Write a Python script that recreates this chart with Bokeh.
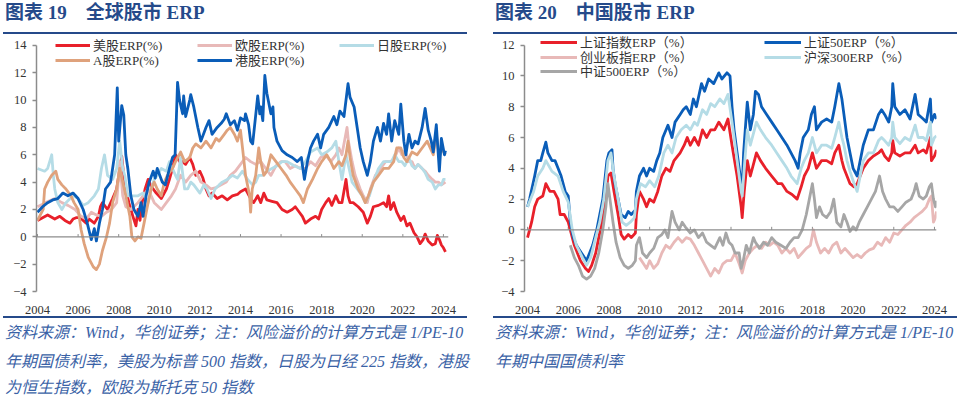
from bokeh.plotting import figure
from bokeh.models import Span, Legend, LegendItem, FixedTicker, Range1d, Div
from bokeh.layouts import row, column
from bokeh.embed import file_html
from bokeh.resources import INLINE

# ---------------- data: left chart (全球股市 ERP) ----------------
year_ticks = [2004, 2006, 2008, 2010, 2012, 2014, 2016, 2018, 2020, 2022, 2024]
left_y_ticks = [-4, -2, 0, 2, 4, 6, 8, 10, 12, 14]
right_y_ticks = [-4, -2, 0, 2, 4, 6, 8, 10, 12]

us_erp = [(2004.0,1.2),(2004.5,1.6),(2004.85,1.3),(2005.1,1.5),(2005.35,1.2),(2005.6,1.0),(2005.75,1.3),(2005.9,1.4),
          (2006.1,1.4),(2006.4,1.0),(2006.55,1.3),(2006.8,1.0),(2007.0,1.5),(2007.1,2.2),(2007.2,2.5),(2007.45,2.0),
          (2007.7,2.8),(2007.9,3.5),(2008.15,5.9),(2008.25,4.5),(2008.35,3.5),(2008.5,2.5),(2008.7,1.5),(2008.85,0.8),
          (2008.95,2.0),(2009.05,1.2),(2009.15,2.5),(2009.3,3.5),(2009.45,4.2),(2009.6,3.7),(2009.85,3.2),(2010.1,2.8),
          (2010.35,3.5),(2010.5,4.2),(2010.65,5.0),(2010.8,6.0),(2011.0,5.5),(2011.15,5.5),(2011.3,5.3),(2011.5,5.8),
          (2011.65,5.3),(2011.8,4.5),(2012.0,4.8),(2012.15,4.3),(2012.3,3.5),(2012.45,3.0),(2012.6,3.2),(2012.85,2.8),
          (2013.1,3.0),(2013.35,2.7),(2013.6,3.0),(2013.85,3.1),(2014.0,3.3),(2014.25,3.5),(2014.5,2.8),(2014.65,2.5),
          (2014.85,3.0),(2015.0,2.5),(2015.15,3.2),(2015.3,2.7),(2015.55,2.6),(2015.8,2.5),(2016.05,2.0),(2016.3,1.8),
          (2016.55,2.0),(2016.7,2.2),(2016.9,1.8),(2017.05,1.5),(2017.2,1.0),(2017.45,1.3),(2017.7,1.5),(2017.85,1.3),
          (2018.0,2.0),(2018.2,2.5),(2018.35,2.8),(2018.5,2.3),(2018.7,3.0),(2018.85,2.5),(2019.0,2.5),(2019.2,4.2),
          (2019.3,3.0),(2019.4,2.5),(2019.55,2.5),(2019.8,2.2),(2020.05,1.8),(2020.25,1.0),(2020.4,1.5),(2020.55,2.2),
          (2020.8,2.3),(2021.05,2.5),(2021.2,2.2),(2021.3,3.0),(2021.4,2.0),(2021.55,2.5),(2021.7,1.8),(2021.9,1.2),
          (2022.05,1.5),(2022.2,0.8),(2022.35,1.0),(2022.55,0.3),(2022.7,0.0),(2022.85,-0.5),(2023.0,-0.2),(2023.1,0.2),
          (2023.25,-0.3),(2023.45,-0.6),(2023.6,-0.5),(2023.7,0.1),(2023.8,-0.2),(2023.9,-0.6),(2024.0,-0.8),(2024.1,-1.1)]

eu_erp = [(2004.0,2.2),(2004.4,2.5),(2004.85,2.8),(2005.2,2.5),(2005.5,2.3),(2005.85,2.0),(2006.15,1.5),(2006.4,1.3),
          (2006.65,1.8),(2006.9,1.6),(2007.15,1.5),(2007.4,1.8),(2007.65,2.0),(2007.9,2.5),(2008.05,5.5),(2008.2,3.0),
          (2008.35,2.2),(2008.6,2.0),(2008.95,2.5),(2009.2,3.0),(2009.45,3.5),(2009.75,2.5),(2010.1,2.0),(2010.35,2.5),
          (2010.6,3.0),(2010.8,3.5),(2011.05,4.5),(2011.3,4.0),(2011.55,4.5),(2011.8,4.8),(2012.05,4.0),(2012.3,3.8),
          (2012.55,3.5),(2012.8,3.6),(2013.05,3.8),(2013.3,4.0),(2013.5,4.5),(2013.75,4.8),(2014.0,5.3),(2014.25,5.8),
          (2014.5,5.5),(2014.75,5.3),(2015.0,5.5),(2015.25,5.0),(2015.5,4.5),(2015.75,5.2),(2016.0,5.5),(2016.2,5.5),
          (2016.45,5.0),(2016.7,5.2),(2016.95,5.0),(2017.2,5.0),(2017.45,5.5),(2017.7,5.2),(2017.95,5.8),(2018.2,6.0),
          (2018.45,5.5),(2018.7,6.0),(2018.85,6.5),(2019.0,6.0),(2019.25,8.0),(2019.32,7.0),(2019.5,5.5),(2019.65,4.5),
          (2019.9,3.5),(2020.05,3.0),(2020.25,2.5),(2020.4,3.5),(2020.65,4.5),(2020.9,5.0),(2021.15,5.5),(2021.4,5.5),
          (2021.6,5.8),(2021.8,6.5),(2021.95,6.0),(2022.1,6.3),(2022.3,5.5),(2022.45,5.5),(2022.6,5.0),(2022.75,5.3),
          (2022.95,5.0),(2023.1,4.8),(2023.25,4.5),(2023.45,4.2),(2023.6,4.0),(2023.75,4.0),(2023.9,3.8),(2024.1,4.0)]

jp_erp = [(2004.0,5.0),(2004.35,4.8),(2004.5,5.0),(2004.7,6.0),(2004.78,4.5),(2004.85,3.5),(2005.0,2.5),(2005.2,2.0),
          (2005.4,2.5),(2005.75,3.0),(2006.0,2.8),(2006.25,2.3),(2006.5,2.5),(2006.8,3.0),(2007.0,3.5),(2007.15,5.0),
          (2007.3,6.0),(2007.45,4.5),(2007.7,4.2),(2007.9,5.0),(2008.05,7.0),(2008.2,5.0),(2008.3,4.5),(2008.45,3.0),
          (2008.7,3.0),(2008.95,3.0),(2009.2,3.2),(2009.45,2.5),(2009.6,3.5),(2009.75,4.2),(2009.9,4.5),(2010.1,5.0),
          (2010.35,4.8),(2010.5,5.5),(2010.65,5.0),(2010.8,4.5),(2010.9,4.2),(2011.05,5.8),(2011.25,3.5),(2011.4,3.5),
          (2011.55,4.0),(2011.7,3.8),(2012.0,3.2),(2012.2,3.8),(2012.35,3.5),(2012.55,2.8),(2012.75,3.5),(2012.95,3.8),
          (2013.1,4.0),(2013.35,4.2),(2013.6,4.5),(2013.85,4.3),(2014.1,4.8),(2014.35,4.2),(2014.6,3.8),(2014.75,4.0),
          (2014.9,4.5),(2015.1,4.5),(2015.3,4.8),(2015.55,5.0),(2015.8,5.2),(2016.05,5.5),(2016.3,5.5),(2016.65,5.2),
          (2016.95,5.0),(2017.2,5.5),(2017.45,6.2),(2017.8,6.5),(2018.0,6.0),(2018.25,6.2),(2018.5,6.5),(2018.7,7.0),
          (2018.85,5.5),(2019.0,4.2),(2019.2,6.0),(2019.35,5.0),(2019.5,4.0),(2019.75,3.5),(2020.0,3.0),(2020.15,2.5),
          (2020.35,3.0),(2020.55,4.0),(2020.8,5.0),(2021.05,5.5),(2021.3,5.5),(2021.45,5.5),(2021.6,6.0),(2021.8,5.5),
          (2021.95,5.5),(2022.1,5.2),(2022.3,5.8),(2022.45,5.2),(2022.6,5.0),(2022.75,5.3),(2022.95,5.0),(2023.1,4.7),
          (2023.25,4.2),(2023.45,4.0),(2023.6,3.5),(2023.75,3.8),(2023.9,3.8),(2024.0,4.2),(2024.1,4.2)]

a_erp = [(2004.0,1.2),(2004.28,2.0),(2004.35,3.5),(2004.5,4.0),(2004.7,4.5),(2004.9,4.8),(2005.0,4.2),(2005.2,3.8),
         (2005.4,3.5),(2005.65,3.0),(2005.8,2.5),(2006.0,2.0),(2006.15,0.5),(2006.3,-0.5),(2006.5,-1.5),(2006.75,-2.2),
         (2006.9,-2.4),(2007.05,-2.0),(2007.2,-1.0),(2007.4,0.0),(2007.55,1.0),(2007.7,2.5),(2007.9,3.5),(2008.05,5.0),
         (2008.2,4.0),(2008.35,3.0),(2008.55,1.5),(2008.65,0.0),(2008.8,-0.3),(2008.95,0.0),(2009.1,-0.1),(2009.25,1.0),
         (2009.45,2.5),(2009.6,3.5),(2009.75,4.0),(2009.9,3.5),(2010.1,3.0),(2010.25,4.0),(2010.4,4.5),(2010.65,5.0),
         (2010.8,5.5),(2011.05,6.2),(2011.25,5.5),(2011.5,5.8),(2011.65,6.5),(2011.8,6.8),(2012.05,6.5),(2012.3,7.0),
         (2012.55,6.5),(2012.8,7.2),(2012.95,7.0),(2013.2,7.5),(2013.35,7.8),(2013.5,8.0),(2013.7,7.5),(2013.85,7.0),
         (2014.0,7.8),(2014.1,6.5),(2014.25,4.5),(2014.45,3.0),(2014.5,1.8),(2014.58,3.5),(2014.75,4.5),(2014.9,6.5),
         (2015.0,5.5),(2015.15,4.5),(2015.3,4.8),(2015.5,6.0),(2015.75,5.5),(2016.0,5.0),(2016.25,4.5),(2016.45,4.0),
         (2016.7,3.5),(2016.95,3.0),(2017.1,2.5),(2017.3,3.5),(2017.55,4.2),(2017.8,5.0),(2018.0,5.5),(2018.25,6.0),
         (2018.45,5.5),(2018.6,5.0),(2018.85,5.5),(2019.0,5.2),(2019.2,6.0),(2019.3,7.0),(2019.4,5.8),(2019.55,4.5),
         (2019.8,3.5),(2020.0,3.0),(2020.15,2.5),(2020.3,3.0),(2020.55,4.0),(2020.8,4.5),(2021.05,5.0),(2021.3,5.0),
         (2021.55,5.5),(2021.7,6.5),(2021.9,6.5),(2022.05,5.8),(2022.2,5.5),(2022.45,6.2),(2022.7,6.0),(2022.95,6.5),
         (2023.2,7.0),(2023.35,6.5),(2023.5,6.0),(2023.65,7.5),(2023.8,5.8),(2023.9,6.5),(2024.1,6.0)]

hk_erp = [(2004.0,1.8),(2004.25,2.2),(2004.5,2.5),(2004.75,2.7),(2005.0,2.8),(2005.25,3.2),(2005.5,3.0),(2005.75,3.2),
          (2006.0,2.8),(2006.25,2.0),(2006.45,1.0),(2006.65,-0.2),(2006.8,0.6),(2006.9,-0.3),(2007.05,1.0),(2007.2,2.0),
          (2007.35,3.5),(2007.6,4.0),(2007.8,6.0),(2007.93,10.9),(2008.0,7.0),(2008.15,9.6),(2008.25,8.9),(2008.35,6.0),
          (2008.45,5.0),(2008.6,3.0),(2008.75,2.0),(2008.95,1.5),(2009.1,2.5),(2009.2,1.5),(2009.35,3.0),(2009.5,4.0),
          (2009.7,4.8),(2009.8,4.3),(2009.9,5.0),(2010.15,4.0),(2010.3,3.8),(2010.5,5.0),(2010.65,5.8),(2010.78,6.0),
          (2010.9,11.3),(2011.0,10.0),(2011.15,9.0),(2011.2,10.3),(2011.3,8.8),(2011.5,10.0),(2011.55,10.4),(2011.7,9.5),
          (2011.9,8.0),(2012.05,7.0),(2012.3,8.0),(2012.45,8.5),(2012.6,7.5),(2012.85,8.0),(2013.05,8.3),(2013.2,8.6),
          (2013.3,9.0),(2013.5,8.2),(2013.7,8.5),(2013.85,7.8),(2014.0,8.7),(2014.2,8.5),(2014.25,9.0),(2014.4,8.2),
          (2014.5,7.0),(2014.6,6.8),(2014.65,7.5),(2014.85,10.3),(2014.95,9.0),(2015.0,9.5),(2015.1,8.5),(2015.2,11.8),
          (2015.3,10.5),(2015.5,9.0),(2015.6,9.5),(2015.65,8.0),(2015.8,7.0),(2016.05,6.3),(2016.3,6.0),(2016.55,5.8),
          (2016.8,5.5),(2017.0,5.8),(2017.15,4.2),(2017.3,5.5),(2017.45,6.5),(2017.6,7.0),(2017.8,7.5),(2017.95,6.5),
          (2018.1,7.5),(2018.35,8.0),(2018.6,8.8),(2018.75,8.2),(2018.9,9.2),(2019.1,8.8),(2019.3,11.2),(2019.4,10.2),
          (2019.6,9.5),(2019.75,8.0),(2019.9,6.5),(2020.05,5.5),(2020.25,4.5),(2020.4,5.5),(2020.55,7.0),(2020.75,8.0),
          (2020.9,7.0),(2021.05,8.3),(2021.2,7.5),(2021.3,9.0),(2021.45,7.0),(2021.6,8.5),(2021.8,7.5),(2021.9,9.7),
          (2022.05,7.0),(2022.15,6.0),(2022.3,7.5),(2022.45,6.5),(2022.6,7.0),(2022.75,6.8),(2022.95,8.0),(2023.1,9.4),
          (2023.25,7.8),(2023.4,7.0),(2023.5,6.2),(2023.65,8.2),(2023.8,4.8),(2023.9,7.2),(2024.05,6.0),(2024.1,6.3)]

# ---------------- data: right chart (中国股市 ERP) ----------------
szzs_erp = [(2004.0,-0.5),(2004.1,0.0),(2004.2,0.5),(2004.35,1.5),(2004.5,2.0),(2004.75,2.2),(2004.9,3.0),(2005.1,2.5),
            (2005.3,2.5),(2005.5,2.0),(2005.6,1.0),(2005.8,1.0),(2006.0,0.5),(2006.1,0.0),(2006.3,-1.0),(2006.45,-1.5),
            (2006.6,-2.0),(2006.85,-2.5),(2007.0,-2.7),(2007.15,-2.3),(2007.35,-1.5),(2007.5,-0.5),(2007.65,0.5),(2007.8,1.5),
            (2007.95,3.5),(2008.1,3.7),(2008.25,2.5),(2008.45,1.0),(2008.6,-0.3),(2008.75,-0.6),(2008.95,-0.3),(2009.1,-0.5),
            (2009.3,-0.2),(2009.35,1.0),(2009.5,2.5),(2009.7,2.0),(2009.85,1.5),(2010.0,2.0),(2010.2,1.8),(2010.4,2.5),
            (2010.6,3.5),(2010.8,4.0),(2011.0,3.8),(2011.2,4.5),(2011.5,5.0),(2011.7,5.5),(2011.85,6.0),(2012.0,5.5),
            (2012.2,6.0),(2012.4,5.5),(2012.6,6.5),(2012.8,6.0),(2013.0,6.5),(2013.2,6.5),(2013.4,7.0),(2013.65,6.5),
            (2013.85,7.2),(2014.05,5.5),(2014.3,3.5),(2014.5,1.5),(2014.55,0.8),(2014.65,2.5),(2014.8,4.5),(2014.95,3.5),
            (2015.15,4.5),(2015.25,5.0),(2015.45,4.5),(2015.7,4.0),(2016.0,3.5),(2016.3,3.0),(2016.5,3.0),(2016.75,2.5),
            (2017.0,2.3),(2017.25,2.0),(2017.45,2.8),(2017.6,3.5),(2017.8,4.0),(2018.0,5.0),(2018.2,4.0),(2018.45,4.5),
            (2018.7,4.5),(2018.95,4.3),(2019.1,5.0),(2019.3,5.5),(2019.45,4.5),(2019.55,4.0),(2019.7,3.5),(2019.85,3.0),
            (2020.05,2.8),(2020.2,3.0),(2020.35,3.5),(2020.5,4.0),(2020.75,4.5),(2021.0,4.8),(2021.25,5.0),(2021.4,5.2),
            (2021.55,4.8),(2021.75,4.5),(2021.9,5.0),(2021.95,5.8),(2022.05,5.0),(2022.3,4.8),(2022.55,5.0),(2022.8,5.0),
            (2023.05,5.5),(2023.2,5.0),(2023.45,5.2),(2023.6,5.0),(2023.8,6.0),(2023.85,4.5),(2024.0,4.8),(2024.1,5.2)]

sz50_erp = [(2004.0,1.5),(2004.1,2.0),(2004.35,3.5),(2004.5,4.5),(2004.65,4.5),(2004.75,5.0),(2004.9,5.7),(2005.0,5.0),
            (2005.2,4.5),(2005.35,4.5),(2005.5,4.0),(2005.65,3.5),(2005.85,2.5),(2006.0,2.2),(2006.1,0.5),(2006.25,-0.5),
            (2006.4,-1.0),(2006.65,-1.5),(2006.9,-2.0),(2007.05,-1.5),(2007.2,-1.0),(2007.4,0.0),(2007.55,1.0),(2007.7,2.0),
            (2007.9,4.5),(2008.0,5.0),(2008.15,5.2),(2008.2,4.0),(2008.3,3.0),(2008.45,2.0),(2008.6,1.0),(2008.8,0.8),
            (2008.95,1.2),(2009.1,1.0),(2009.3,1.3),(2009.35,2.5),(2009.5,3.5),(2009.7,4.0),(2009.85,3.5),(2010.0,4.0),
            (2010.2,3.8),(2010.35,4.5),(2010.5,5.0),(2010.65,6.0),(2010.9,6.8),(2011.1,6.0),(2011.25,7.0),(2011.5,7.5),
            (2011.65,7.8),(2011.8,8.0),(2012.0,7.5),(2012.15,8.5),(2012.3,8.0),(2012.55,9.5),(2012.7,9.0),(2012.9,9.8),
            (2013.15,9.5),(2013.4,10.2),(2013.55,9.8),(2013.8,10.2),(2013.95,10.0),(2014.05,8.0),(2014.15,6.5),(2014.3,5.0),
            (2014.45,3.5),(2014.55,2.8),(2014.62,5.0),(2014.7,6.5),(2014.8,8.3),(2014.95,6.5),(2015.1,7.5),(2015.2,9.0),
            (2015.35,8.8),(2015.5,8.0),(2015.75,7.5),(2016.0,7.0),(2016.25,6.5),(2016.5,6.0),(2016.75,5.5),(2016.95,5.0),
            (2017.15,4.5),(2017.3,4.0),(2017.4,5.0),(2017.55,6.0),(2017.8,6.5),(2017.95,7.5),(2018.1,8.0),(2018.2,6.5),
            (2018.45,7.0),(2018.7,7.2),(2018.95,7.0),(2019.1,8.0),(2019.3,9.5),(2019.45,8.5),(2019.55,7.5),(2019.7,6.0),
            (2019.85,5.0),(2020.0,4.0),(2020.2,3.5),(2020.35,4.5),(2020.5,5.5),(2020.75,6.5),(2021.0,6.5),(2021.25,7.5),
            (2021.4,7.8),(2021.55,7.5),(2021.75,7.0),(2021.9,8.0),(2021.95,9.5),(2022.05,8.0),(2022.3,7.5),(2022.55,7.8),
            (2022.8,7.2),(2023.05,8.8),(2023.2,7.5),(2023.45,7.2),(2023.6,7.0),(2023.8,8.5),(2023.85,7.0),(2024.0,7.5),
            (2024.1,7.2)]

cyb_erp = [(2009.5,-1.8),(2009.7,-2.2),(2009.85,-2.5),(2010.0,-2.0),(2010.2,-2.5),(2010.4,-2.2),(2010.6,-1.5),(2010.8,-1.0),
           (2011.0,-1.2),(2011.2,-0.8),(2011.4,-0.5),(2011.6,-0.8),(2011.8,-0.5),(2012.0,-0.6),(2012.2,-1.0),(2012.4,-1.5),
           (2012.6,-2.0),(2012.8,-2.5),(2013.0,-3.0),(2013.2,-2.5),(2013.4,-2.8),(2013.6,-2.2),(2013.8,-2.0),(2014.0,-2.0),
           (2014.2,-1.5),(2014.4,-2.2),(2014.55,-2.8),(2014.7,-2.0),(2014.9,-1.5),(2015.1,-1.2),(2015.3,-1.0),(2015.5,-1.2),
           (2015.7,-0.8),(2015.9,-1.0),(2016.1,-0.8),(2016.3,-1.0),(2016.5,-1.5),(2016.7,-1.2),(2016.9,-1.5),(2017.1,-1.2),
           (2017.3,-1.8),(2017.5,-1.5),(2017.7,-1.2),(2017.9,-1.0),(2018.05,0.0),(2018.2,-0.8),(2018.4,-1.5),(2018.6,-1.2),
           (2018.8,-1.5),(2019.0,-1.0),(2019.2,-0.8),(2019.4,-1.5),(2019.6,-1.2),(2019.8,-1.5),(2020.0,-1.8),(2020.2,-1.6),
           (2020.4,-1.8),(2020.6,-1.5),(2020.8,-1.3),(2021.0,-1.2),(2021.2,-0.8),(2021.4,-1.0),(2021.6,-0.5),(2021.8,-0.8),
           (2022.0,-0.2),(2022.2,-0.3),(2022.4,0.0),(2022.6,0.3),(2022.8,0.5),(2023.0,0.8),(2023.2,1.0),(2023.4,1.2),
           (2023.6,1.5),(2023.75,2.0),(2023.85,2.2),(2023.95,0.5),(2024.05,0.8),(2024.1,1.2)]

hs300_erp = [(2004.0,1.5),(2004.3,2.5),(2004.5,3.5),(2004.75,4.0),(2004.9,4.5),(2005.2,3.8),(2005.5,3.5),(2005.75,2.5),
             (2006.0,1.8),(2006.2,0.0),(2006.4,-1.0),(2006.7,-1.8),(2006.9,-2.3),(2007.1,-1.8),(2007.35,-0.5),(2007.55,0.5),
             (2007.75,2.0),(2007.95,4.5),(2008.1,5.0),(2008.25,3.5),(2008.45,2.0),(2008.65,0.5),(2008.85,0.3),(2009.05,0.5),
             (2009.25,0.8),(2009.35,2.0),(2009.55,3.0),(2009.8,2.8),(2010.0,3.2),(2010.25,2.8),(2010.45,3.5),(2010.7,5.0),
             (2010.9,5.5),(2011.1,5.0),(2011.3,6.0),(2011.55,6.5),(2011.8,6.8),(2012.0,6.5),(2012.2,7.0),(2012.35,6.8),
             (2012.6,7.8),(2012.8,7.5),(2013.0,8.2),(2013.2,8.0),(2013.45,8.5),(2013.65,8.2),(2013.85,8.8),(2014.05,7.0),
             (2014.3,4.5),(2014.5,2.5),(2014.55,2.2),(2014.65,4.0),(2014.8,6.5),(2014.95,5.5),(2015.15,6.5),(2015.25,7.0),
             (2015.45,6.5),(2015.7,6.0),(2016.0,5.5),(2016.25,5.0),(2016.5,4.5),(2016.75,4.0),(2016.95,3.5),(2017.25,3.0),
             (2017.45,4.0),(2017.6,4.5),(2017.8,5.0),(2018.0,6.0),(2018.2,5.0),(2018.45,5.5),(2018.7,5.5),(2018.95,5.3),
             (2019.1,6.0),(2019.3,7.0),(2019.45,6.0),(2019.55,5.5),(2019.7,4.5),(2019.85,3.8),(2020.05,3.0),(2020.2,2.5),
             (2020.35,3.5),(2020.5,4.5),(2020.75,5.0),(2021.0,5.0),(2021.25,5.8),(2021.4,6.0),(2021.55,5.8),(2021.75,5.5),
             (2021.9,6.0),(2021.95,7.0),(2022.05,6.0),(2022.3,5.6),(2022.55,6.0),(2022.8,5.8),(2023.05,6.8),(2023.2,6.0),
             (2023.45,6.0),(2023.6,5.8),(2023.8,7.0),(2023.85,5.5),(2024.0,6.0),(2024.1,6.1)]

zz500_erp = [(2006.1,-1.0),(2006.3,-1.8),(2006.5,-2.3),(2006.7,-3.0),(2006.9,-3.2),(2007.1,-3.0),(2007.3,-2.5),(2007.5,-1.5),
             (2007.7,0.0),(2007.85,1.5),(2007.95,3.0),(2008.05,2.0),(2008.2,0.5),(2008.35,-0.8),(2008.55,-1.8),(2008.75,-2.3),
             (2008.95,-2.5),(2009.15,-2.3),(2009.3,-2.0),(2009.35,-1.0),(2009.5,-0.5),(2009.65,-1.5),(2009.85,-1.8),(2010.0,-1.5),
             (2010.2,-1.2),(2010.4,-0.5),(2010.6,-0.3),(2010.75,0.0),(2010.9,-0.5),(2011.1,1.2),(2011.25,0.5),(2011.45,0.0),
             (2011.6,0.5),(2011.75,0.2),(2012.0,-0.2),(2012.2,0.0),(2012.4,-0.5),(2012.6,-0.2),(2012.8,-0.8),(2013.0,-1.0),
             (2013.2,-1.2),(2013.45,-0.5),(2013.6,-1.0),(2013.75,-0.2),(2013.9,-0.8),(2014.05,-1.0),(2014.2,-1.5),(2014.4,-1.5),
             (2014.5,-2.5),(2014.6,-2.0),(2014.75,-1.0),(2014.9,-1.5),(2015.1,-0.5),(2015.2,-0.8),(2015.4,-1.2),(2015.6,-0.8),
             (2015.8,-1.0),(2016.0,-0.5),(2016.2,-0.8),(2016.45,-1.0),(2016.7,-1.2),(2016.9,-0.8),(2017.1,-0.5),(2017.3,-0.5),
             (2017.5,0.0),(2017.7,1.0),(2017.85,2.0),(2018.0,3.0),(2018.1,2.0),(2018.2,0.8),(2018.35,1.5),(2018.5,1.0),
             (2018.7,0.8),(2018.9,1.2),(2019.05,2.0),(2019.2,0.5),(2019.4,0.2),(2019.55,1.0),(2019.7,0.5),(2019.85,-0.1),
             (2020.0,0.2),(2020.15,0.0),(2020.3,0.5),(2020.5,1.0),(2020.7,1.5),(2020.9,2.0),(2021.1,2.5),(2021.3,3.5),
             (2021.45,2.5),(2021.6,2.0),(2021.8,1.5),(2022.0,1.5),(2022.2,1.2),(2022.4,1.5),(2022.6,1.8),(2022.85,2.0),
             (2023.0,2.5),(2023.1,3.0),(2023.25,2.2),(2023.45,2.0),(2023.6,2.2),(2023.75,2.8),(2023.85,3.0),(2023.95,2.0),
             (2024.05,1.5),(2024.1,1.9)]

left_labels = ["美股ERP(%)", "欧股ERP(%)", "日股ERP(%)", "A股ERP(%)", "港股ERP(%)"]
right_labels = ["上证指数ERP（%）", "上证50ERP（%）", "创业板指ERP（%）", "沪深300ERP（%）", "中证500ERP（%）"]

title_left = "图表 19\u3000全球股市 ERP"
title_right = "图表 20\u3000中国股市 ERP"
source_left = ["资料来源：Wind，华创证券；注：风险溢价的计算方式是 1/PE-10",
               "年期国债利率，美股为标普 500 指数，日股为日经 225 指数，港股",
               "为恒生指数，欧股为斯托克 50 指数"]
source_right = ["资料来源：Wind，华创证券；注：风险溢价的计算方式是 1/PE-10",
                "年期中国国债利率"]

# ---------------- styles ----------------
RED = "#E8202A"
PINK = "#E8B9B8"
LBLUE = "#B5DCE6"
TAN = "#DFA27C"
DBLUE = "#0A5DB8"
GRAY = "#A6A6A6"
NAVY = "#254A8A"
SRC = "#3A62A6"
AXIS = "#8C8C8C"
FONT = "Liberation Serif, Noto Sans CJK SC"
CSS_FONT = "'Liberation Serif','Noto Sans CJK SC',serif"


def base_fig(width, x_range, y_range, y_bounds, y_ticks, bl, br, bb):
    p = figure(width=width, height=282, output_backend="svg", toolbar_location=None,
               x_range=Range1d(*x_range), y_range=Range1d(*y_range),
               min_border_left=bl, min_border_right=br, min_border_top=0, min_border_bottom=bb,
               margin=0)
    p.xgrid.visible = False
    p.ygrid.visible = False
    p.outline_line_color = None
    p.background_fill_color = "white"
    p.border_fill_color = "white"
    ya = p.yaxis[0]
    ya.ticker = FixedTicker(ticks=y_ticks)
    ya.bounds = y_bounds
    ya.axis_line_color = AXIS
    ya.axis_line_width = 1.5
    ya.major_tick_line_color = AXIS
    ya.major_tick_line_width = 1.5
    ya.major_tick_in = 0
    ya.major_tick_out = 4
    ya.minor_tick_line_color = None
    ya.major_label_standoff = 6
    ya.major_label_text_font = FONT
    ya.major_label_text_font_size = "12.5px"
    ya.major_label_text_color = "#333333"
    xa = p.xaxis[0]
    xa.ticker = FixedTicker(ticks=year_ticks)
    xa.axis_line_color = None
    xa.major_tick_line_color = None
    xa.minor_tick_line_color = None
    xa.major_label_standoff = 8
    xa.major_label_text_font = FONT
    xa.major_label_text_font_size = "12.5px"
    xa.major_label_text_color = "#333333"
    p.add_layout(Span(location=0, dimension="width", line_color=AXIS, line_width=1.2))
    return p


def add_series(p, data, color):
    xs = [d[0] for d in data]
    ys = [d[1] for d in data]
    return p.line(xs, ys, line_color=color, line_width=2.8, line_join="round")


def add_legend_row(p, labels, renderers, loc, glyph_w, label_w):
    lg = Legend(items=[LegendItem(label=l, renderers=[r]) for l, r in zip(labels, renderers)],
                location=loc, orientation="horizontal",
                glyph_width=glyph_w, glyph_height=14, label_standoff=3, label_width=label_w,
                label_height=14, spacing=0, padding=0, margin=0,
                border_line_color=None, background_fill_alpha=0,
                label_text_font=FONT, label_text_font_size="13px", label_text_color="#333333")
    p.add_layout(lg)


def title_div(text, text_left, rule_left):
    html = (f'<div style="position:relative;width:480px;height:34px;overflow:hidden">'
            f'<div style="position:absolute;left:{text_left}px;top:0px;line-height:25px;font-family:{CSS_FONT};'
            f'font-size:19px;font-weight:bold;color:{NAVY};white-space:nowrap">{text}</div>'
            f'<div style="position:absolute;left:{rule_left}px;top:32px;width:464px;height:2px;background:{NAVY}"></div>'
            f'</div>')
    return Div(text=html, width=480, height=34, margin=0)


def source_div(lines, text_left, rule_left):
    parts = [f'<div style="position:relative;width:480px;height:85px;overflow:hidden">',
             f'<div style="position:absolute;left:{rule_left}px;top:0px;width:464px;height:2px;background:{NAVY}"></div>']
    for i, t in enumerate(lines):
        top = [6, 35, 61][i]
        parts.append(f'<div style="position:absolute;left:{text_left}px;top:{top}px;line-height:22px;'
                     f'font-family:{CSS_FONT};font-size:16px;font-style:italic;color:{SRC};white-space:nowrap">{t}</div>')
    parts.append('</div>')
    return Div(text="".join(parts), width=480, height=85, margin=0)


# ---------------- left figure ----------------
p1 = base_fig(480, (2003.95, 2024.25), (-4, 14.8), (-4, 14), left_y_ticks, 36, 32, 24)
p1.segment(x0=year_ticks, y0=[0] * len(year_ticks), x1=year_ticks, y1=[0.2] * len(year_ticks),
           line_color=AXIS, line_width=1)
r_us = add_series(p1, us_erp, RED)
r_eu = add_series(p1, eu_erp, PINK)
r_jp = add_series(p1, jp_erp, LBLUE)
r_a = add_series(p1, a_erp, TAN)
r_hk = add_series(p1, hk_erp, DBLUE)
add_legend_row(p1, left_labels[:3], [r_us, r_eu, r_jp], (19, 237), 35, 104)
add_legend_row(p1, left_labels[3:], [r_a, r_hk], (19, 222), 35, 104)

# ---------------- right figure ----------------
p2 = base_fig(480, (2003.85, 2024.1), (-4, 12.69), (-4, 12), right_y_ticks, 44, 24, 23)
p2.segment(x0=year_ticks, y0=[0] * len(year_ticks), x1=year_ticks, y1=[0.2] * len(year_ticks),
           line_color=AXIS, line_width=1)
r_sz = add_series(p2, szzs_erp, RED)
r_50 = add_series(p2, sz50_erp, DBLUE)
r_cy = add_series(p2, cyb_erp, PINK)
r_hs = add_series(p2, hs300_erp, LBLUE)
r_zz = add_series(p2, zz500_erp, GRAY)
add_legend_row(p2, right_labels[0:2], [r_sz, r_50], (16, 240), 37, 184)
add_legend_row(p2, right_labels[2:4], [r_cy, r_hs], (16, 225), 37, 184)
add_legend_row(p2, right_labels[4:5], [r_zz], (16, 211), 37, 184)

left_col = column(title_div(title_left, 5, 3), p1, source_div(source_left, 5, 3), margin=0, spacing=0)
right_col = column(title_div(title_right, 15, 13), p2, source_div(source_right, 15, 13), margin=0, spacing=0)
layout = row(left_col, right_col, margin=0, spacing=0)
open("out.html", "w").write(file_html(layout, INLINE))
